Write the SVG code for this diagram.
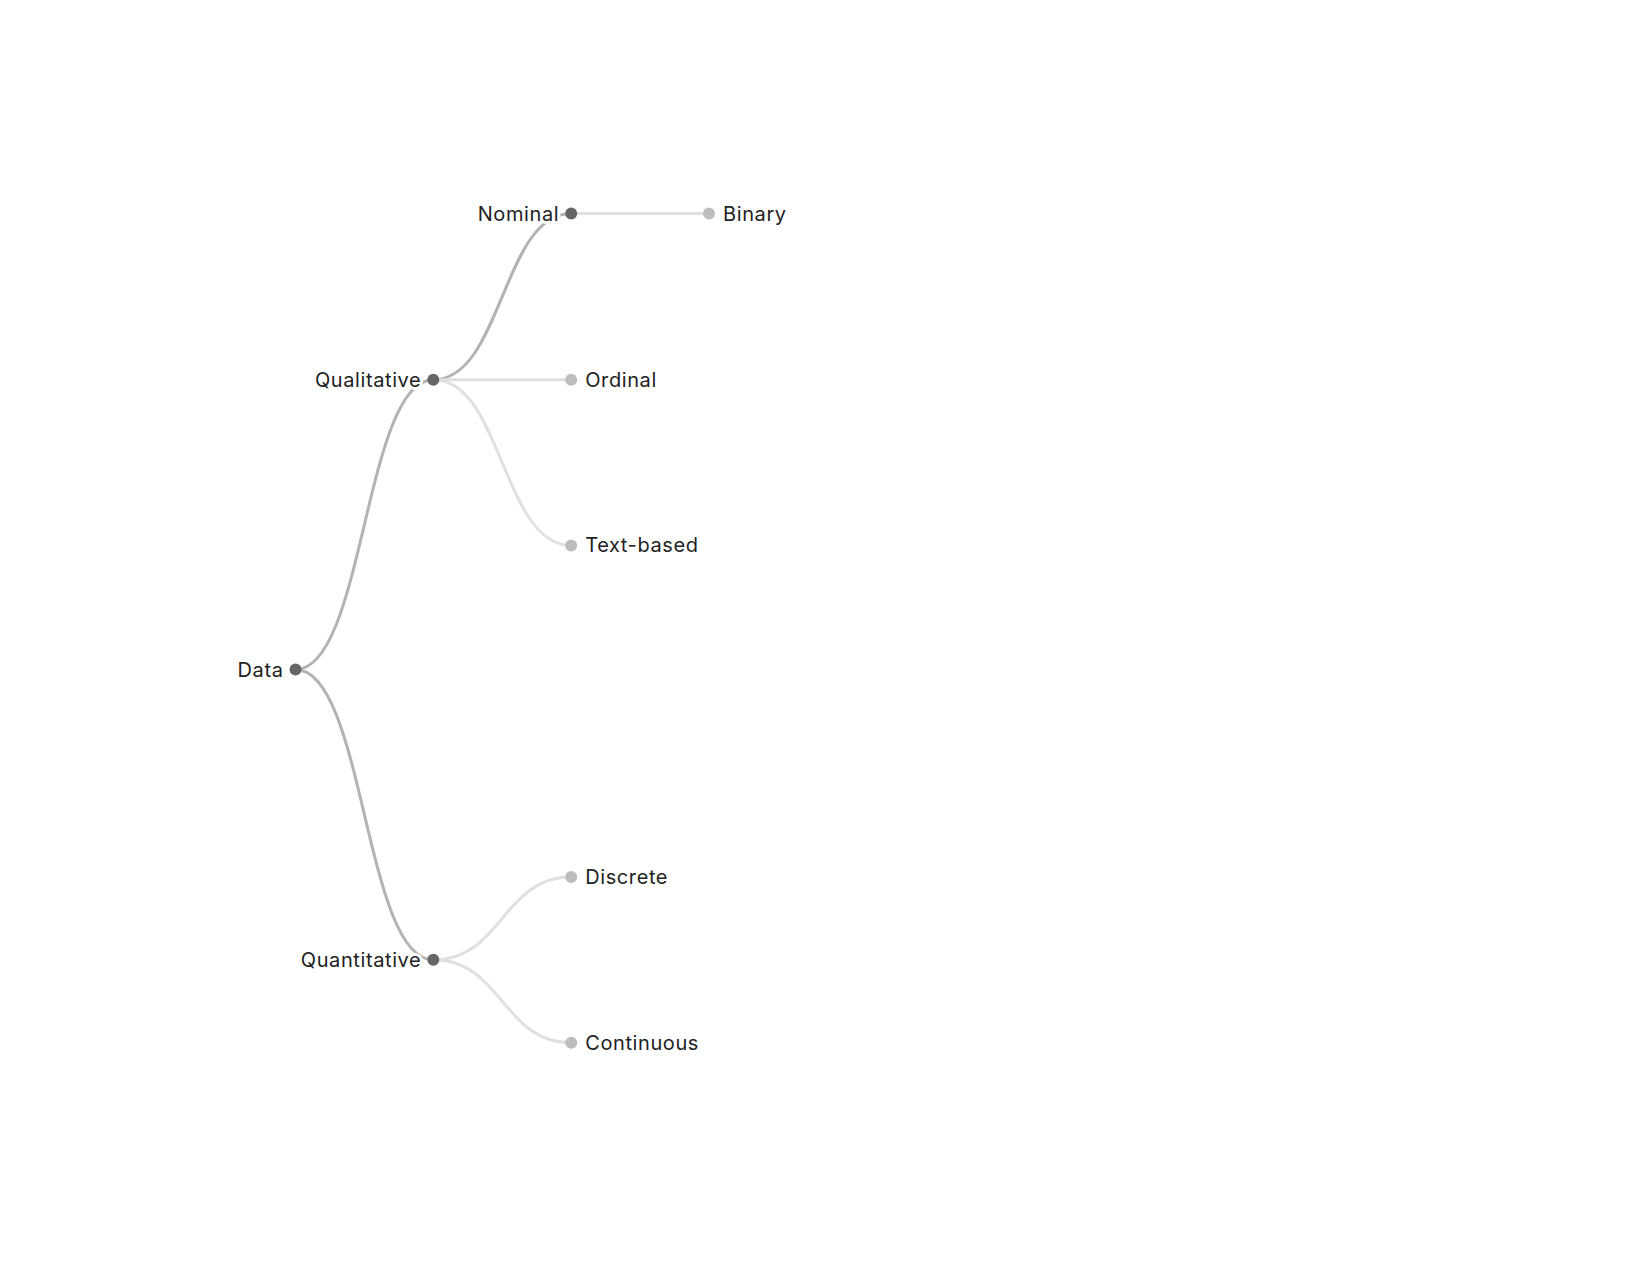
<svg xmlns="http://www.w3.org/2000/svg" width="1625" height="1268" viewBox="0 0 1625 1268">
<style>
.link{fill:none;stroke-width:3}
.strong{stroke:#b3b3b3}
.weak{stroke:#e0e0e0}
.inner{fill:#666}
.leaf{fill:#bdbdbd}
text{font-family:Inter,"Noto Sans","Liberation Sans",sans-serif;font-size:20px;letter-spacing:0.6px;fill:#222;stroke:#fff;stroke-width:6;stroke-linejoin:round;paint-order:stroke}
.l{text-anchor:end}
</style>
<rect width="1625" height="1268" fill="#fff"/>
<g id="connectors">
<path class="link strong" d="M295.5,669.5C364.4,669.5 364.4,379.7 433.3,379.7"/>
<path class="link strong" d="M295.5,669.5C364.4,669.5 364.4,959.8 433.3,959.8"/>
<path class="link strong" d="M433.3,379.7C502.2,379.7 502.2,213.5 571.2,213.5"/>
<path class="link weak" d="M433.3,379.7C502.2,379.7 502.2,379.7 571.2,379.7"/>
<path class="link weak" d="M433.3,379.7C502.2,379.7 502.2,545.4 571.2,545.4"/>
<path class="link weak" d="M571.2,213.5C640,213.5 640,213.5 709,213.5"/>
<path class="link weak" d="M433.3,959.8C502.2,959.8 502.2,877 571.2,877"/>
<path class="link weak" d="M433.3,959.8C502.2,959.8 502.2,1042.7 571.2,1042.7"/>
</g>
<g id="n-data"><circle class="inner" cx="295.5" cy="669.5" r="6"/><text class="l" x="283.5" y="676.5">Data</text></g>
<g id="n-qualitative"><circle class="inner" cx="433.3" cy="379.7" r="6"/><text class="l" x="421.3" y="386.7">Qualitative</text></g>
<g id="n-quantitative"><circle class="inner" cx="433.3" cy="959.8" r="6"/><text class="l" x="421.3" y="966.8">Quantitative</text></g>
<g id="n-nominal"><circle class="inner" cx="571.2" cy="213.5" r="6"/><text class="l" x="559.2" y="220.5">Nominal</text></g>
<g id="n-binary"><circle class="leaf" cx="709" cy="213.5" r="6"/><text x="723" y="220.5">Binary</text></g>
<g id="n-ordinal"><circle class="leaf" cx="571.2" cy="379.7" r="6"/><text x="585.2" y="386.7">Ordinal</text></g>
<g id="n-textbased"><circle class="leaf" cx="571.2" cy="545.4" r="6"/><text x="585.2" y="552.4">Text-based</text></g>
<g id="n-discrete"><circle class="leaf" cx="571.2" cy="877" r="6"/><text x="585.2" y="884">Discrete</text></g>
<g id="n-continuous"><circle class="leaf" cx="571.2" cy="1042.7" r="6"/><text x="585.2" y="1049.7">Continuous</text></g>
</svg>
